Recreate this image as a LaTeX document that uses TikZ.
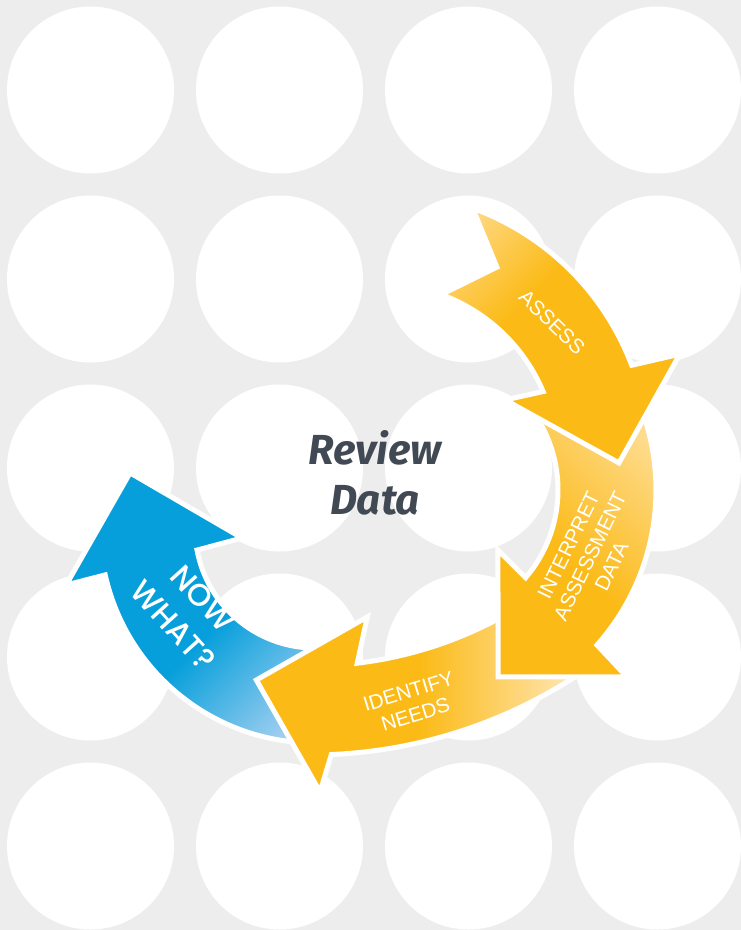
\documentclass[tikz,border=0pt]{standalone}
\usepackage{fontspec}
\usepackage{xcolor}
\usepackage{tikz}
\usetikzlibrary{positioning}
\setmainfont{Liberation Sans}
\newfontfamily\titlefont{Fira Sans}
\newfontfamily\nowfont{Poppins Medium}

\definecolor{bgGray}{HTML}{EDEDED}
\definecolor{yMain}{HTML}{FBBA16}
\definecolor{yLight}{HTML}{FFE3A8}
\definecolor{bMain}{HTML}{069FDB}
\definecolor{bLight}{HTML}{A6D1F1}
\definecolor{titleGray}{HTML}{414A54}

% fades from the tail of each arrow
\pgfdeclarehorizontalshading{assessFade}{100bp}{color(0bp)=(yLight); color(13bp)=(yLight); color(40bp)=(yMain); color(100bp)=(yMain)}
\pgfdeclarehorizontalshading{interpretFade}{100bp}{color(0bp)=(yLight); color(22bp)=(yLight); color(58bp)=(yMain); color(100bp)=(yMain)}
\pgfdeclarehorizontalshading{identifyFade}{100bp}{color(0bp)=(yLight); color(28bp)=(yLight); color(50bp)=(yMain); color(100bp)=(yMain)}
\pgfdeclarehorizontalshading{nowFade}{100bp}{color(0bp)=(bLight); color(20bp)=(bLight); color(45bp)=(bMain); color(100bp)=(bMain)}

\tikzset{
    arrowshape/.style={draw=white, line width=5pt, line join=miter, shade},
    arrowtext/.style={text=white, font=\fontsize{20.5}{24}\selectfont, align=center, inner sep=0pt}
}

\begin{document}
\begin{tikzpicture}[x=1pt, y=-1pt]
    \useasboundingbox (0,0) rectangle (741,930);
    \fill[bgGray] (0,0) rectangle (741,930);

    % dots
    \foreach \col in {0,...,3} {
        \foreach \row in {0,...,4} {
            \fill[white] (90.5+189*\col, 90+189*\row) circle[radius=83.5];
        }
    }

    % now what?
    \begin{scope}[shift={(315,528)}]
        \path[arrowshape, shading=nowFade, shading angle=135]
            (88:215) arc[start angle=88, end angle=167.4, radius=215]
            -- (167.1:255.4) -- (196.6:193) -- (172.2:73.7) -- (169.4:120)
            arc[start angle=169.4, end angle=88, radius=120] -- cycle;
    \end{scope}

    % identify needs
    \begin{scope}[shift={(310,267)}]
        \path[arrowshape, shading=identifyFade, shading angle=180]
            (56:488) arc[start angle=56, end angle=87.5, radius=488]
            -- (88.9:525) -- (97.4:416.5) -- (80.7:354.6) -- (83.2:399)
            arc[start angle=83.2, end angle=56, radius=399] -- cycle;
    \end{scope}

    % interpret
    \begin{scope}[shift={(423,490)}]
        \path[arrowshape, shading=interpretFade, shading angle=-135]
            (-30:233) arc[start angle=-30, end angle=41.7, radius=233]
            -- (42.5:276.7) -- (68.1:201.5) -- (38.7:96) -- (40.5:135)
            arc[start angle=40.5, end angle=-34, radius=135] -- cycle;
    \end{scope}

    % assess
    \begin{scope}[shift={(381,460)}]
        \path[arrowshape, shading=assessFade, shading angle=-45]
            (-70:268) arc[start angle=-70, end angle=-20.7, radius=268]
            -- (-19.5:317) -- (0.7:238) -- (-25.8:138) -- (-22.9:176)
            arc[start angle=-22.9, end angle=-70, radius=176]
            -- (-59:225) -- cycle;
    \end{scope}

    % labels
    \node[arrowtext, rotate=-44] (assess) at (552,322) {ASSESS};
    \node[arrowtext, rotate=64] (interpret) at (590,556) {INTERPRET\\ASSESSMENT\\DATA};
    \node[arrowtext, rotate=17] (identify) at (412,703) {IDENTIFY\\NEEDS};
    \node[arrowtext, rotate=-48, font=\nowfont\fontsize{31}{40}\selectfont] (nowwhat) at (188,612) {NOW\\WHAT?};

    \node[text=titleGray, align=center, inner sep=0pt,
          font=\titlefont\bfseries\itshape\fontsize{42}{50}\selectfont] (review) at (375,473) {Review\\Data};
\end{tikzpicture}
\end{document}
